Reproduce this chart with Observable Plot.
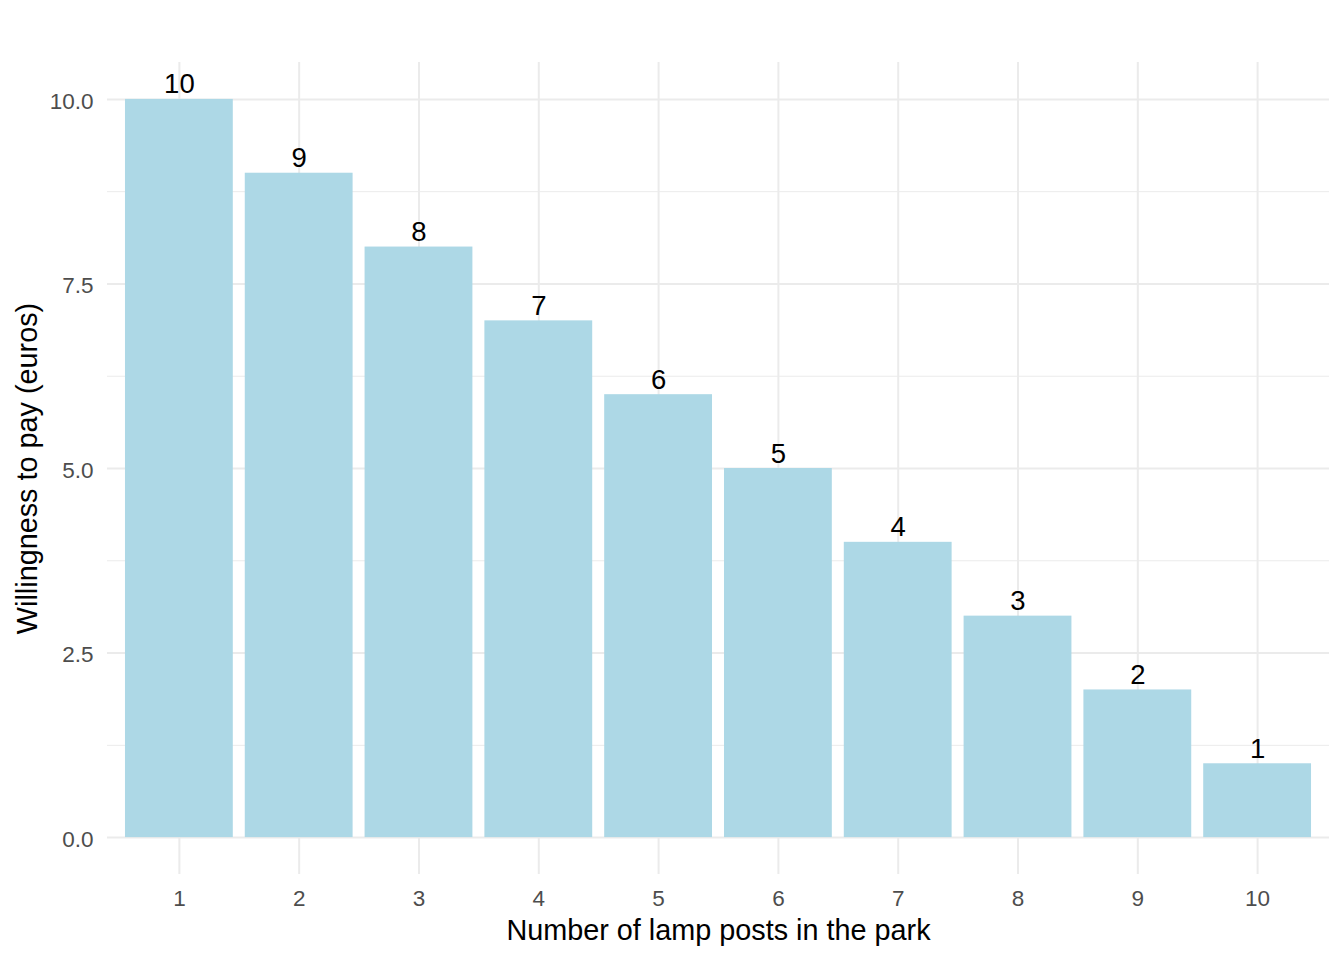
<!DOCTYPE html>
<html>
<head>
<meta charset="utf-8">
<script src="https://cdn.jsdelivr.net/npm/d3@7"></script>
<script src="https://cdn.jsdelivr.net/npm/@observablehq/plot@0.6"></script>
<style>
  html, body { margin: 0; padding: 0; background: #ffffff; }
  #chart svg { display: block; }
</style>
</head>
<body>
<div id="chart"></div>
<script>
const lampPosts = [1, 2, 3, 4, 5, 6, 7, 8, 9, 10];
const willingness = [10, 9, 8, 7, 6, 5, 4, 3, 2, 1];
const yTicks = [0, 2.5, 5, 7.5, 10];
const yMinor = [1.25, 3.75, 6.25, 8.75];
const xTitle = "Number of lamp posts in the park";
const yTitle = "Willingness to pay (euros)";

const data = lampPosts.map((k, i) => ({posts: k, wtp: willingness[i]}));

const chart = Plot.plot({
  width: 1344,
  height: 960,
  marginLeft: 107,
  marginRight: 15,
  marginTop: 62,
  marginBottom: 86,
  style: {fontFamily: "'Liberation Sans', Arial, sans-serif", background: "#ffffff"},
  x: {type: "band", domain: lampPosts, paddingInner: 0.1, paddingOuter: 0.15, align: 0.5, round: false, label: null},
  y: {domain: [-0.5, 10.5], label: null},
  marks: [
    Plot.ruleY(yMinor, {stroke: "#EBEBEB", strokeWidth: 1}),
    Plot.ruleY(yTicks, {stroke: "#EBEBEB", strokeWidth: 2}),
    Plot.ruleX(lampPosts, {x: d => d, stroke: "#EBEBEB", strokeWidth: 2}),
    Plot.barY(data, {x: "posts", y1: 0, y2: "wtp", fill: "#ADD8E6"}),
    Plot.text(data, {x: "posts", y: "wtp", text: d => String(d.wtp), lineAnchor: "bottom", dy: -6, fontSize: 27.5, fill: "#000000"}),
    Plot.axisX({ticks: lampPosts, tickSize: 0, tickPadding: 16, fontSize: 22.5, fill: "#4D4D4D", label: null}),
    Plot.axisY({ticks: yTicks, tickFormat: d3.format(".1f"), tickSize: 0, tickPadding: 14, dy: 2, fontSize: 22.5, fill: "#4D4D4D", label: null}),
    Plot.text([xTitle], {frameAnchor: "bottom", lineAnchor: "bottom", textAnchor: "middle", dy: 65, text: d => d, fontSize: 28.8, fill: "#000000"}),
    Plot.text([yTitle], {frameAnchor: "left", rotate: -90, lineAnchor: "middle", textAnchor: "middle", dx: -80, text: d => d, fontSize: 28.8, fill: "#000000"})
  ]
});

document.getElementById("chart").appendChild(chart);
</script>
</body>
</html>
